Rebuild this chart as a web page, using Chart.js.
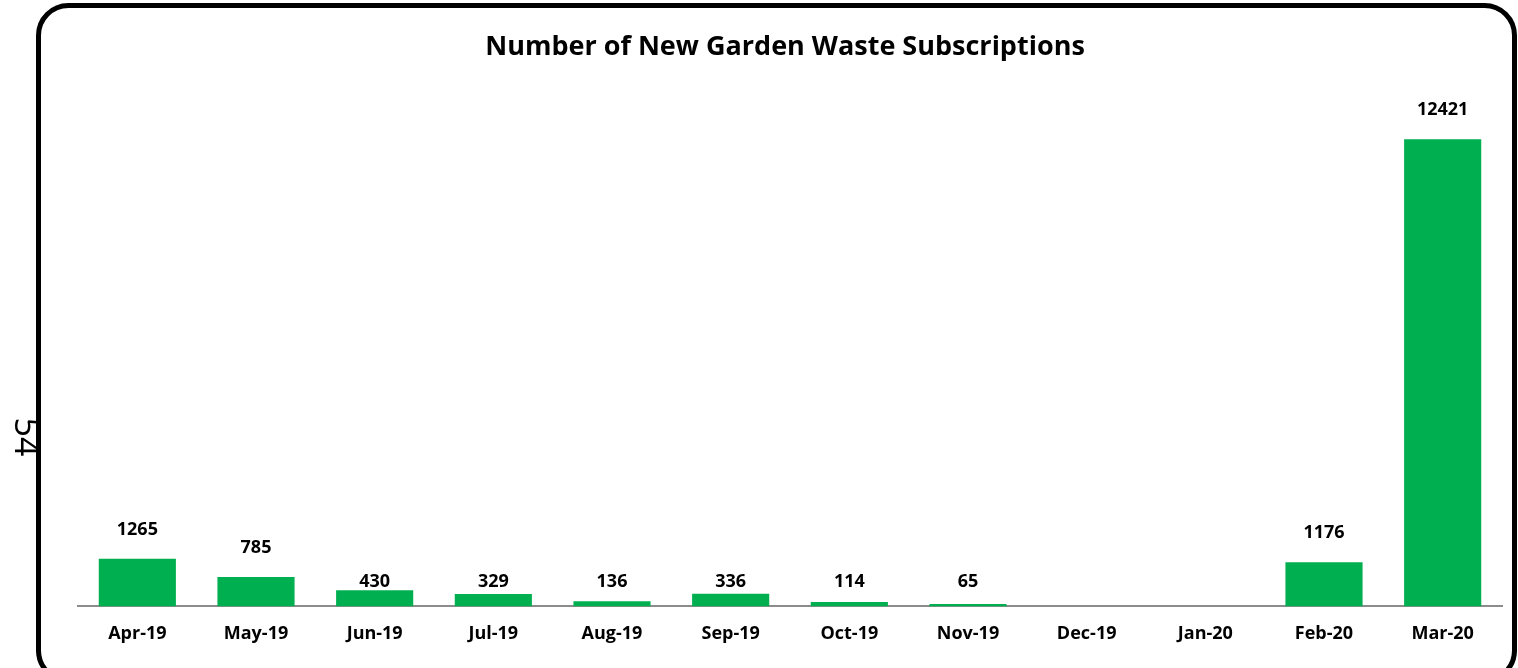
<!DOCTYPE html>
<html>
<head>
<meta charset="utf-8">
<script src="https://cdn.jsdelivr.net/npm/chart.js@4.4.0/dist/chart.umd.min.js"></script>
<style>
  html, body { margin: 0; padding: 0; background: #fff; }
  #wrap { width: 1518px; height: 668px; position: relative; }
</style>
</head>
<body>
<div id="wrap"><canvas id="bars"></canvas></div>
<script>
var months = ["Apr-19", "May-19", "Jun-19", "Jul-19", "Aug-19", "Sep-19",
  "Oct-19", "Nov-19", "Dec-19", "Jan-20", "Feb-20", "Mar-20"];
var subscriptions = [1265, 785, 430, 329, 136, 336, 114, 65, null, null, 1176, 12421];
var yMax = 14000;
var chartTitle = "Number of New Garden Waste Subscriptions";
var pageNumber = "54";

var FONT = "'Open Sans', 'Liberation Sans', sans-serif";

// title, frame, page number and value labels
var extras = {
  id: "extras",
  afterDatasetsDraw: function (chart) {
    var c = chart.ctx;
    var meta = chart.getDatasetMeta(0);
    c.save();
    c.fillStyle = "#000";
    c.font = "bold 18px " + FONT;
    c.textAlign = "center";
    c.textBaseline = "middle";
    meta.data.forEach(function (bar, i) {
      var v = subscriptions[i];
      if (v == null) return;
      // short bars get their label on a common line just above the axis
      var y = (bar.base - bar.y < 20) ? bar.base - 25 : bar.y - 29;
      c.fillText(String(v), bar.x, y);
    });
    c.restore();
  },
  afterDraw: function (chart) {
    var c = chart.ctx;
    c.save();
    c.fillStyle = "#000";
    c.font = "bold 27px " + FONT;
    c.textAlign = "center";
    c.textBaseline = "middle";
    c.fillText(chartTitle, 785, 47);

    c.strokeStyle = "#000";
    c.lineWidth = 5;
    c.beginPath();
    c.roundRect(38.5, 5.5, 1476, 675, 30);
    c.stroke();

    c.translate(25, 437);
    c.rotate(Math.PI / 2);
    c.font = "34px " + FONT;
    c.fillText(pageNumber, 0, 0);
    c.restore();
  }
};

var ctx = document.getElementById("bars").getContext("2d");
var chart = new Chart(ctx, {
  type: "bar",
  data: {
    labels: months,
    datasets: [
      {
        label: "New subscriptions",
        data: subscriptions,
        backgroundColor: "#00B050",
        borderWidth: 0,
        categoryPercentage: 1,
        barPercentage: 0.65,
      },
    ],
  },
  options: {
    responsive: true,
    maintainAspectRatio: false,
    animation: false,
    layout: { padding: { left: 78, right: 16, top: 80, bottom: 14 } },
    plugins: {
      legend: { display: false },
      tooltip: { enabled: false },
      title: { display: false },
    },
    scales: {
      x: {
        grid: { display: false },
        border: { display: true, color: "#8c8c8c", width: 2 },
        ticks: {
          color: "#000",
          padding: 9,
          font: { family: FONT, size: 18, weight: "bold" },
          maxRotation: 0,
        },
      },
      y: {
        display: false,
        min: 0,
        max: yMax,
      },
    },
  },
  plugins: [extras],
});
</script>
</body>
</html>
